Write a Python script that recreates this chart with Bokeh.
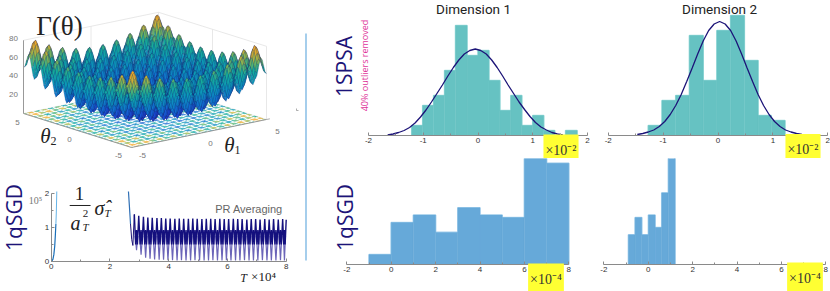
from bokeh.plotting import figure
from bokeh.layouts import row, column
from bokeh.models import Label, Range1d, FixedTicker, LinearAxis
from bokeh.embed import file_html
from bokeh.resources import INLINE

# ---------- data ----------
h1_edges = [-1.21,-1.01,-0.81,-0.61,-0.41,-0.20,0.0,0.20,0.40,0.60,0.80,1.0,1.20,1.40,1.60,1.81]
h1_counts = [2,6,8,13,22,16,17,11,5,8,2,4,1,0,1]
c1_x = [-1.65,-1.55,-1.45,-1.35,-1.25,-1.15,-1.05,-0.95,-0.85,-0.75,-0.65,-0.55,-0.45,-0.35,-0.25,-0.15,-0.05,
        0.05,0.15,0.25,0.35,0.45,0.55,0.65,0.75,0.85,0.95,1.05,1.15,1.25,1.35,1.45,1.55]
c1_y = [0.1,0.3,0.6,1.0,1.6,2.5,3.7,5.1,6.7,8.4,10.1,11.9,13.6,15.1,16.3,17.0,17.3,
        17.0,16.3,15.1,13.6,11.9,10.1,8.4,6.7,5.2,3.8,2.6,1.7,1.1,0.6,0.3,0.1]

h2_edges = [-1.27,-1.02,-0.77,-0.52,-0.27,-0.02,0.23,0.48,0.73,0.97,1.22]
h2_counts = [2,7,8,20,11,21,24,15,4,3]
c2_x = [-1.47,-1.37,-1.27,-1.17,-1.07,-0.97,-0.87,-0.77,-0.67,-0.57,-0.47,-0.37,-0.27,-0.17,-0.07,0.03,
        0.13,0.23,0.33,0.43,0.53,0.63,0.73,0.83,0.93,1.03,1.13,1.23,1.33,1.43,1.53]
c2_y = [0.2,0.4,0.7,1.1,1.8,2.8,4.2,6.0,8.2,10.8,13.5,16.3,18.9,21.0,22.3,22.8,
        22.3,21.0,18.9,16.3,13.5,10.8,8.2,6.0,4.2,2.8,1.8,1.1,0.7,0.4,0.2]

h3_edges = [-1,0,1,2,3,4,5,6,7,8]
h3_counts = [4,17,20,13,23,20,19,43,41]
h4_edges = [-0.89,-0.59,-0.29,0.01,0.31,0.61,0.91,1.21]
h4_counts = [12,19,12,20,15,29,44]

pr_rise_t = [0.0,0.03,0.06,0.09,0.12,0.14,0.16,0.175,0.19]
pr_rise_v = [0.0,0.02,0.07,0.2,0.45,0.75,1.1,1.45,2.05]
pr_drop_t = [2.63,2.66,2.70,2.74,2.78,2.83]
pr_drop_v = [2.05,1.65,1.1,0.65,0.47,1.38]
pr_peak_t = [2.83,2.98,3.14,3.29,3.44,3.60,3.75,3.90,4.05,4.21,4.36,4.51,4.67,4.82,4.97,5.13,5.28,5.43,
             5.58,5.74,5.89,6.04,6.20,6.35,6.50,6.66,6.81,6.96,7.11,7.27,7.42,7.57,7.73,7.88,8.0]
pr_peak_v = [1.38,1.34,1.31,1.29,1.28,1.27,1.27,1.26,1.26,1.25,1.26,1.25,1.25,1.26,1.25,1.24,1.25,1.25,
             1.24,1.25,1.24,1.24,1.25,1.24,1.24,1.23,1.24,1.24,1.23,1.24,1.23,1.24,1.23,1.24,1.22]
pr_trough_v = [0.33,0.20,0.11,0.08,0.06,0.05,0.05,0.04,0.04,0.03,0.04,0.03,0.03,0.04,0.03,0.03,0.03,0.04,
               0.03,0.03,0.04,0.03,0.03,0.03,0.04,0.03,0.03,0.03,0.04,0.03,0.03,0.03,0.04,0.03]

# one-dimensional height profile of the surface, read for theta = 0 .. 5 in steps of 1/8
surf_profile = [0,2.95,10.06,17.21,20.25,17.46,10.56,3.70,1,4.20,11.56,18.96,22.25,19.71,13.06,6.45,4,
                7.45,15.06,22.71,26.25,23.96,17.56,11.2,9,12.7,20.56,28.46,32.25,30.21,24.06,17.95,16,
                19.95,28.06,36.21,40.25,38.46,32.56,26.7,25]
colour_stops = [(0,"#2a28a8"),(0.15,"#1c48d8"),(0.38,"#1076d0"),(0.55,"#0c9ab8"),(0.68,"#16ae9c"),(0.8,"#7cb858"),(0.9,"#d8b030"),(1,"#f6a623")]

NAVY = "#1c1478"; TEAL = "#66c2c2"; TEAL_E = "#a3dede"; BLUE = "#66a9d9"; BLUE_E = "#b0d6f0"; YEL = "#ffff33"
SANS = "Liberation Sans"; SERIF = "Liberation Serif"; HEAD = "Open Sans"; NARROW = "Roboto"

def hexrgb(h): return [int(h[i:i+2],16) for i in (1,3,5)]
def cmap(t):
    t = max(0,min(1,t))
    for (a,ca),(b,cb) in zip(colour_stops,colour_stops[1:]):
        if t <= b:
            f=(t-a)/(b-a); A=hexrgb(ca); B=hexrgb(cb)
            return "#%02x%02x%02x"%tuple(int(A[k]+(B[k]-A[k])*f) for k in range(3))
    return colour_stops[-1][1]

def rng(v0,v1,p0,p1,P0,P1):
    """Range for a figure spanning page pixels P0..P1 in which value v0 sits at pixel p0 and v1 at p1."""
    k=(v1-v0)/(p1-p0)
    return Range1d(v0+(P0-p0)*k, v0+(P1-p0)*k)

class Panel:
    def __init__(s,X0,X1,Y0,Y1,xr,yr):
        s.X0,s.Y1=X0,Y1
        s.fig=figure(width=X1-X0,height=Y1-Y0,x_range=xr,y_range=yr,x_axis_type=None,y_axis_type=None,
                     output_backend="svg",toolbar_location=None,min_border=0,
                     min_border_left=0,min_border_right=0,min_border_top=0,min_border_bottom=0)
        s.fig.outline_line_color=None; s.fig.grid.visible=False; s.fig.frame_align=False
    def text(s,x,y,t,size=10,color="#444",font=SANS,align="center",style="normal",angle=0,**kw):
        s.fig.add_layout(Label(x=x-s.X0,y=s.Y1-y,x_units="screen",y_units="screen",text=t,
            text_font=font,text_font_size=f"{size}px",text_color=color,text_align=align,
            text_baseline="middle",text_font_style=style,angle=angle,angle_units="deg",**kw))
    def axis(s,side,ticks,minor,at,bounds):
        ax=LinearAxis(fixed_location=at,bounds=bounds,ticker=FixedTicker(ticks=ticks,minor_ticks=minor))
        ax.axis_line_color="#8a8a8a"; ax.axis_line_width=1
        ax.major_tick_line_color="#8a8a8a"; ax.minor_tick_line_color="#8a8a8a"
        ax.major_tick_in=3; ax.major_tick_out=0; ax.minor_tick_in=2; ax.minor_tick_out=0
        ax.major_label_text_font=SANS; ax.major_label_text_font_size="8px"; ax.major_label_text_color="#333"
        ax.major_label_standoff=2
        ax.major_label_overrides={t:str(t) for t in ticks}
        s.fig.add_layout(ax,side)
        return ax
    def yellow(s,x,y,t):
        s.text(x,y,t,size=14,color="#333",font=SERIF,background_fill_color=YEL,padding=(2,8))

def hist(X0,X1,Y0,Y1,xv,xp,yv,yp,edges,counts,col,edge,ticks,minor):
    P=Panel(X0,X1,Y0,Y1,rng(*xv,*xp,X0,X1),rng(*yv,*yp,Y1,Y0))
    P.axis("below",ticks,minor,0,xv)
    ox=[edges[0]]; oy=[0]
    for a,b,c in zip(edges[:-1],edges[1:],counts):
        ox+=[a,b]; oy+=[c,c]
    ox.append(edges[-1]); oy.append(0)
    P.fig.line(ox,oy,line_color=edge,line_width=1.6)
    P.fig.quad(left=edges[:-1],right=edges[1:],bottom=0,top=counts,fill_color=col,line_color=col,line_width=0.4)
    return P

# ---------- 3D surface panel ----------
P3=Panel(0,300,0,160,Range1d(0,300),Range1d(160,0))
f3d=P3.fig
def proj(t1,t2,z=0):
    return 144.5+13.5*t1-10.8*t2, 116-2.8*t1-3.4*t2-0.915*z
for a,b in [((-5,5,0),(-5,5,80)),((-5,5,80),(5,5,80)),((5,5,80),(5,-5,80)),((5,-5,80),(5,-5,0)),((5,5,0),(5,5,80)),
            ((-5,5,0),(5,5,0)),((5,5,0),(5,-5,0)),((0,5,0),(0,5,80)),((5,0,0),(5,0,80))]:
    xa,ya=proj(*a); xb,yb=proj(*b)
    f3d.line([xa,xb],[ya,yb],line_color="#e2e2e2",line_width=0.8)
theta = [(-40+k)/8 for k in range(81)]
prof = surf_profile[:0:-1]+surf_profile
fx,fy,fc,sx,sy,sc=[],[],[],[],[],[]
for i in range(79,-1,-1):
    for j in range(79,-1,-1):
        corners=[(i,j),(i+1,j),(i+1,j+1),(i,j+1)]
        zs=[prof[a]+prof[b] for a,b in corners]
        zm=sum(zs)/4
        X=[proj(theta[a],theta[b])[0] for a,b in corners]; Y=[proj(theta[a],theta[b])[1] for a,b in corners]
        fx.append(X); fy.append(Y)
        fc.append("#ffffff" if (j%4==1 or i%8 in (1,5)) else cmap(0.2+zm/90))
        Q=[proj(theta[a],theta[b],prof[a]+prof[b]) for a,b in corners]
        sx.append([q[0] for q in Q]); sy.append([q[1] for q in Q]); sc.append(cmap(zm/80))
f3d.patches(fx,fy,fill_color=fc,line_color=None)
f3d.patches(sx,sy,fill_color=sc,line_color="#16206e",line_width=0.3,line_alpha=0.6)
for a,b in [((-5,5,0),(-5,-5,0)),((-5,-5,0),(5,-5,0)),((-5,5,0),(-5,5,80))]:
    xa,ya=proj(*a); xb,yb=proj(*b)
    f3d.line([xa,xb],[ya,yb],line_color="#999999",line_width=1)
f3d.line(*zip(proj(5,-5,0),proj(5.25,-5,0)),line_color="#999999",line_width=0.8)
for v,y in zip([80,60,40,20],[38,57,75,94]):
    P3.text(13,y,str(v),size=8,color="#777")
for t,x,y in [("5",17,122),("0",69,139),("-5",118,155),("-5",142,155),("0",210,143),("5",277,131)]:
    P3.text(x,y,t,size=8,color="#777")
P3.text(59,25,"Γ(θ)",size=27,color="#222",font=SERIF)
P3.text(45,135,"θ",size=21,color="#222",font=SERIF,style="italic")
P3.text(53,140,"2",size=12,color="#222",font=SERIF)
P3.text(229,144,"θ",size=21,color="#222",font=SERIF,style="italic")
P3.text(237,149,"1",size=12,color="#222",font=SERIF)
f3d.line([296,296,298],[108,110,110],line_color="#777",line_width=0.6)

# ---------- PR averaging panel ----------
PR=Panel(0,300,160,291,rng(0,8,50.7,285.7,0,300),rng(0,2,261,192.7,291,160))
fpr=PR.fig
PR.axis("below",[0,2,4,6,8],[1,3,5,7],0,(0,8))
ay=PR.axis("left",[0,1,2],[0.5,1.5],0,(0,2)); ay.major_label_orientation="horizontal"
fpr.line(pr_rise_t[:7],pr_rise_v[:7],line_color="#1a6fb8",line_width=1.2)
fpr.line(pr_rise_t[6:],pr_rise_v[6:],line_color="#66b4e8",line_width=1)
fpr.line(pr_drop_t[:3],pr_drop_v[:3],line_color="#2f6fb5",line_width=1.2)
fpr.line(pr_drop_t[2:],pr_drop_v[2:],line_color=NAVY,line_width=1)
lt,lv,dt,dv=[],[],[],[]
for k,(t,v) in enumerate(zip(pr_peak_t,pr_peak_v)):
    dt.append(t); dv.append(v)
    if k<len(pr_trough_v):
        s=pr_peak_t[k+1]-t
        dt+= [t+0.3*s,t+0.5*s,t+0.7*s]; dv+=[0.5,0.92,0.5]
        lt+= [t+0.2*s,t+0.5*s,t+0.8*s,float("nan")]; lv+=[0.75,pr_trough_v[k],0.75,float("nan")]
fpr.line(lt,lv,line_color="#3a32a0",line_width=1.2,line_alpha=0.75)
fpr.line(dt,dv,line_color="#14107e",line_width=1.4)
PR.text(35,200,"10⁵",size=10,color="#777",font=SERIF)
PR.text(79,193,"1",size=19,color="#222",font=SERIF)
fpr.line([0.63,1.34],[1.64,1.64],line_color="#222",line_width=1)
PR.text(75,222,"a",size=20,color="#222",font=SERIF,style="italic")
PR.text(85,213,"2",size=11,color="#222",font=SERIF)
PR.text(85,226,"T",size=11,color="#222",font=SERIF,style="italic")
PR.text(99,207,"σ̂",size=20,color="#222",font=SERIF,style="italic")
PR.text(107,212,"T",size=11,color="#222",font=SERIF,style="italic")
PR.text(248.5,208,"PR Averaging",size=11,color="#666",font=SANS)
PR.text(243,277,"T",size=12,color="#222",font=SERIF,style="italic")
PR.text(263,276,"×10⁴",size=13,color="#222",font=SERIF)
PR.text(13,217,"1qSGD",size=21,color=NAVY,font=HEAD,angle=90)

# ---------- divider ----------
DV=Panel(300,320,0,291,Range1d(300,320),Range1d(291,0))
DV.fig.line([305.5,305.5],[33,260],line_color="#6aaee0",line_width=1.2)

# ---------- histograms ----------
T5=[-2,-1,0,1,2]; M5=[-1.5,-0.5,0.5,1.5]; T6=[-2,0,2,4,6,8]; M6=[-1,1,3,5,7]
H1=hist(320,597,0,158,(-2,2),(368,587),(0,27),(135,0),h1_edges,h1_counts,TEAL,TEAL_E,T5,M5)
H1.fig.line(c1_x,c1_y,line_color=NAVY,line_width=1.3)
H1.text(473,8,"Dimension 1",size=13.5,color="#222",font=NARROW)
H1.text(343,66,"1SPSA",size=21,color=NAVY,font=HEAD,angle=90)
H1.text(363.5,65,"40% outliers removed",size=9,color="#e0359a",font=HEAD,angle=90)
H1.yellow(560.5,149.5,"×10⁻²")

H2=hist(597,830,0,158,(-2,2),(607.7,827.3),(0,27),(135,0),h2_edges,h2_counts,TEAL,TEAL_E,T5,M5)
H2.fig.line(c2_x,c2_y,line_color=NAVY,line_width=1.3)
H2.text(719,8,"Dimension 2",size=13.5,color="#222",font=NARROW)
H2.yellow(802.5,149,"×10⁻²")

H3=hist(320,597,158,291,(-2,8),(346.3,568.3),(0,43),(264,157.8),h3_edges,h3_counts,BLUE,BLUE_E,T6,M6)
H3.text(344,217,"1qSGD",size=21,color=NAVY,font=HEAD,angle=90)
H3.yellow(545.5,278.5,"×10⁻⁴")

H4=hist(597,830,158,291,(-2,8),(603.3,825.3),(0,43),(264,157.8),h4_edges,h4_counts,BLUE,BLUE_E,T6,M6)
H4.yellow(804.5,277.5,"×10⁻⁴")

layout = row(column(P3.fig,PR.fig,spacing=0),DV.fig,column(H1.fig,H3.fig,spacing=0),column(H2.fig,H4.fig,spacing=0),spacing=0)
open("out.html","w").write(file_html(layout,INLINE))
